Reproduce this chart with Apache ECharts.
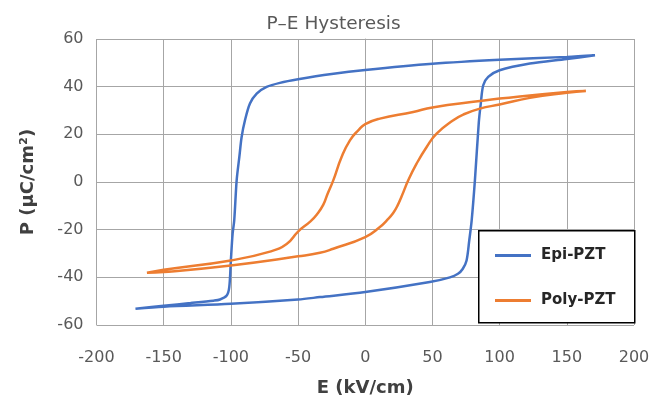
<!DOCTYPE html>
<html>
<head>
<meta charset="utf-8">
<script src="https://cdn.jsdelivr.net/npm/echarts@6/dist/echarts.min.js"></script>
<style>
html,body{margin:0;padding:0;background:#fff;}
#chart{width:667px;height:403px;}
</style>
</head>
<body>
<div id="chart"></div>
<script>
// ---- data (E in kV/cm, P in µC/cm²) ----
var chartTitle = 'P\u2013E Hysteresis';
var xAxisTitle = 'E (kV/cm)';
var yAxisTitle = 'P (\u00b5C/cm\u00b2)';
var seriesNames = ['Epi-PZT', 'Poly-PZT'];

var epiE = [171, 150, 100, 50, 0, -25, -50, -63.5, -73.4, -80.8, -85.8, -89.5, -92, -93.7, -95.7, -97.5, -98.7, -100, -101.2, -103.1, -108.1, -113, -130, -150, -171,
            -150, -100, -50, -33.7, 0, 48, 63, 69, 72.5, 75.4, 77.4, 79.2, 81.6, 84.5, 86.0, 87.8, 91.5, 100, 122.5, 150, 171];
var epiP = [53.2, 52.5, 51.3, 49.6, 47.0, 45.3, 43.1, 41.6, 39.9, 37.1, 32.9, 25.9, 18.9, 10.5, 0.7, -16.1, -21.7, -32.9, -44.1, -47.6, -49.3, -49.8, -50.8, -51.9, -53.2,
            -52.3, -51.1, -49.3, -48.3, -46.2, -42.0, -40.0, -38.5, -36.5, -32.9, -24.5, -16.1, 0.7, 25.0, 33.0, 40.6, 44.1, 46.9, 49.7, 51.6, 53.2];

var polyE = [164.2, 150, 100, 85.3, 50, 35.7, 10.9, 0, -5.2, -11.4, -17.6, -23.8, -28.0, -31.2, -36, -41, -50, -58.5, -70.9, -100, -150, -162.4,
             -150, -100, -50, -33.7, -23.8, 0, 10.9, 15.9, 20.8, 24.1, 27.1, 32.0, 38.2, 45.7, 53.1, 65.5, 72.9, 85.3, 100, 122.5, 150, 164.2];
var polyP = [38.2, 37.8, 35.0, 34.0, 31.3, 29.4, 26.6, 24.3, 21.7, 17.5, 10.5, 0.7, -4.9, -9.5, -13.6, -16.6, -20.8, -26.0, -29.2, -32.9, -36.8, -38.1,
             -37.8, -35.0, -31.2, -29.7, -28.0, -23.1, -18.9, -16.2, -13.0, -9.8, -6.0, 0.7, 7.7, 14.7, 20.3, 25.9, 28.3, 30.8, 32.5, 35.3, 37.4, 38.2];

var xMin = -200, xMax = 200, xStep = 50;
var yMin = -60, yMax = 60, yStep = 20;

function pairs(a, b) { return a.map(function (v, i) { return [v, b[i]]; }); }

var FONT = '"DejaVu Sans", sans-serif';
var chart = echarts.init(document.getElementById('chart'), null, {renderer: 'canvas'});
chart.setOption({
  animation: false,
  backgroundColor: '#ffffff',
  title: {
    text: chartTitle, left: 'center', top: 10,
    textStyle: {fontFamily: FONT, fontSize: 18.5, fontWeight: 'normal', color: '#595959'}
  },
  grid: {left: 96.5, right: 33, top: 39, bottom: 78, containLabel: false},
  xAxis: {
    type: 'value', min: xMin, max: xMax, interval: xStep,
    name: xAxisTitle, nameLocation: 'middle', nameGap: 54,
    nameTextStyle: {fontFamily: FONT, fontSize: 18, fontWeight: 'bold', color: '#404040'},
    axisLine: {show: true, lineStyle: {color: '#a6a6a6', width: 1}},
    axisTick: {show: false},
    axisLabel: {margin: 25, fontFamily: FONT, fontSize: 16, color: '#595959'},
    splitLine: {show: true, lineStyle: {color: '#a6a6a6', width: 1}}
  },
  yAxis: {
    type: 'value', min: yMin, max: yMax, interval: yStep,
    name: yAxisTitle, nameLocation: 'middle', nameGap: 59, nameRotate: 90,
    nameTextStyle: {fontFamily: FONT, fontSize: 18, fontWeight: 'bold', color: '#404040'},
    axisLine: {show: true, lineStyle: {color: '#a6a6a6', width: 1}},
    axisTick: {show: false},
    axisLabel: {margin: 13, fontFamily: FONT, fontSize: 16, color: '#595959'},
    splitLine: {show: true, lineStyle: {color: '#a6a6a6', width: 1}}
  },
  graphic: [{
    type: 'rect', left: 478, top: 230, z: 50,
    shape: {width: 156, height: 92},
    style: {fill: '#ffffff', stroke: '#000000', lineWidth: 1.5}
  }],
  legend: {
    orient: 'vertical', left: 478, top: 230, z: 60,
    padding: [18, 20, 14, 17],
    itemGap: 30, itemWidth: 36, itemHeight: 3, icon: 'rect',
    textStyle: {fontFamily: FONT, fontSize: 15, fontWeight: 'bold', color: '#262626', padding: [0,0,0,5]},
    data: seriesNames
  },
  series: [
    {name: seriesNames[0], type: 'line', data: pairs(epiE, epiP), showSymbol: false, symbol: 'none',
     smooth: 0.3, lineStyle: {color: '#4472C4', width: 2.5}, itemStyle: {color: '#4472C4'}},
    {name: seriesNames[1], type: 'line', data: pairs(polyE, polyP), showSymbol: false, symbol: 'none',
     smooth: 0.5, lineStyle: {color: '#ED7D31', width: 2.5}, itemStyle: {color: '#ED7D31'}}
  ]
});
</script>
</body>
</html>
